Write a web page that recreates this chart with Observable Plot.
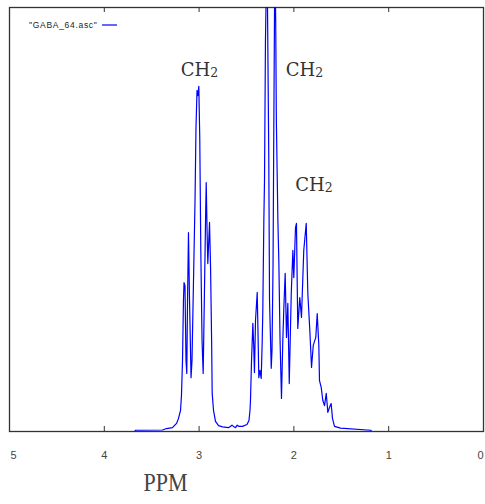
<!DOCTYPE html>
<html>
<head>
<meta charset="utf-8">
<script src="https://cdn.jsdelivr.net/npm/d3@7"></script>
<script src="https://cdn.jsdelivr.net/npm/@observablehq/plot@0.6"></script>
<style>
  html, body { margin: 0; padding: 0; background: #fff; }
  #wrap { position: relative; width: 485px; height: 504px; }
  #legend { position: absolute; left: 0; top: 0; }
</style>
</head>
<body>
<div id="wrap"></div>
<script>
// Spectrum samples (chemical shift in ppm, relative intensity)
const ppm = [5.0, 3.68, 3.67, 3.386, 3.344, 3.281, 3.238, 3.217, 3.196, 3.186,
  3.175, 3.165, 3.159, 3.149, 3.138, 3.130, 3.122, 3.112, 3.101, 3.085,
  3.075, 3.059, 3.043, 3.033, 3.022, 3.014, 3.003, 2.993, 2.982, 2.969,
  2.957, 2.945, 2.932, 2.925, 2.916, 2.908, 2.898, 2.890, 2.879, 2.868,
  2.862, 2.848, 2.827, 2.795, 2.753, 2.690, 2.653, 2.632, 2.616, 2.598,
  2.579, 2.542, 2.495, 2.474, 2.463, 2.458, 2.447, 2.433, 2.424, 2.416,
  2.405, 2.387, 2.379, 2.370, 2.358, 2.345, 2.334, 2.328, 2.317, 2.310,
  2.300, 2.284, 2.271, 2.265, 2.257, 2.239, 2.231, 2.220, 2.212, 2.201,
  2.192, 2.185, 2.169, 2.159, 2.146, 2.131, 2.117, 2.106, 2.092, 2.078,
  2.064, 2.049, 2.028, 2.011, 2.001, 1.983, 1.973, 1.959, 1.938, 1.920,
  1.896, 1.870, 1.853, 1.832, 1.814, 1.796, 1.769, 1.754, 1.737, 1.730,
  1.712, 1.695, 1.677, 1.659, 1.642, 1.624, 1.607, 1.593, 1.572, 1.508,
  1.19, 1.18, 0];
const intensity = [0, 0, 0.3, 0.35, 0.7, 0.9, 1.9, 3.1, 5.0, 8.5,
  16.7, 30.9, 35.1, 34.4, 16.7, 13.7, 30.9, 46.9, 30.9, 12.7,
  16.7, 35.6, 54.5, 71.5, 80.4, 79.2, 81.4, 69.3, 42.7, 21.5,
  13.7, 30.9, 49.8, 58.7, 47.4, 39.6, 45.0, 49.3, 38.7, 21.5,
  9.0, 5.0, 2.4, 1.4, 1.1, 0.9, 1.5, 1.1, 0.9, 1.5,
  1.2, 1.2, 1.65, 2.6, 5.0, 7.3, 16.7, 25.5, 20.3, 13.9,
  26.2, 32.8, 23.8, 12.7, 14.4, 12.5, 21.5, 28.5, 49.8, 59.2,
  92.2, 115, 80.4, 64.6, 30.9, 14.9, 19.1, 39.2, 71.0, 112,
  96.9, 73.3, 49.8, 40.3, 21.5, 7.8, 21.5, 29.2, 37.3, 22.2,
  30.2, 11.3, 32.5, 42.7, 36.3, 48.1, 49.1, 24.3, 31.6, 26.9,
  42.7, 49.1, 32.5, 23.8, 15.1, 20.3, 22.2, 27.8, 20.3, 12.0,
  10.4, 7.3, 6.1, 9.0, 4.5, 5.7, 6.6, 3.1, 1.2, 0.8,
  0.3, 0, 0];

const xTicks = [5, 4, 3, 2, 1, 0];
const innerTicks = [4, 3, 2, 1];

const peakLabelText = ["CH2", "CH2", "CH2"];
const peakLabelPpm = [2.996, 1.888, 1.788];
const peakLabelY = [85.3, 85.3, 58.0];

const axisTitle = "PPM";
const axisTitlePpm = 3.354;
const seriesName = "\"GABA_64.asc\"";

const spectrum = ppm.map((p, i) => ({ppm: p, v: intensity[i]}));
const labels = peakLabelText.map((t, i) => ({t, x: peakLabelPpm[i], y: peakLabelY[i]}));

const tickText = {fill: "#444", fontSize: 11, fontFamily: "Liberation Sans"};

const chart = Plot.plot({
  width: 485,
  height: 504,
  marginLeft: 9,
  marginRight: 2,
  marginTop: 7,
  marginBottom: 73,
  x: {domain: [5, 0], label: null},
  y: {domain: [0, 100], axis: null, label: null},
  style: {background: "#fff", fontFamily: "Liberation Sans"},
  marks: [
    Plot.ruleX(innerTicks, {stroke: "#333", strokeWidth: 1, insetTop: 419}),
    Plot.ruleX(innerTicks, {stroke: "#333", strokeWidth: 1, insetBottom: 419}),
    Plot.frame({stroke: "#333", strokeWidth: 1.3}),
    Plot.axisX(innerTicks, {tickSize: 0, tickPadding: 20, label: null, ...tickText}),
    Plot.text([xTicks[0]], {x: d => d, text: d => String(d), frameAnchor: "bottom", dy: 20, lineAnchor: "top", textAnchor: "start", dx: 1, ...tickText}),
    Plot.text([xTicks[xTicks.length - 1]], {x: d => d, text: d => String(d), frameAnchor: "bottom", dy: 20, lineAnchor: "top", textAnchor: "end", dx: 0, ...tickText}),
    Plot.text([axisTitle], {x: () => axisTitlePpm, text: d => d, frameAnchor: "bottom", dy: 59, fontSize: 26, fontFamily: "Liberation Serif", fill: "#444"}),
    Plot.text(labels, {x: "x", y: "y", text: "t", fontSize: 18, fontFamily: "DejaVu Serif", fill: "#333"}),
    Plot.line(spectrum, {x: "ppm", y: "v", stroke: "#0000ff", strokeWidth: 1.2, clip: true})
  ]
});

// subscript the "2" of CH2, and narrow the axis title like the original lettering
d3.select(chart).selectAll("text").each(function() {
  const el = d3.select(this);
  if (this.textContent === "CH2" && this.children.length === 0) {
    el.text("CH");
    el.append("tspan").attr("font-size", 12.5).attr("dy", 1).text("2");
  } else if (this.textContent === axisTitle) {
    el.attr("textLength", 44).attr("lengthAdjust", "spacingAndGlyphs");
  }
});

const wrap = document.getElementById("wrap");
wrap.appendChild(chart);

// legend (series key), top-left inside the frame
const leg = d3.select(wrap).append("svg").attr("id", "legend").attr("width", 130).attr("height", 40);
leg.append("text").attr("x", 29).attr("y", 28).attr("font-family", "Liberation Sans")
  .attr("font-size", 8.5).attr("letter-spacing", 0.7).attr("fill", "#222").text(seriesName);
leg.append("line").attr("x1", 102).attr("x2", 117).attr("y1", 25).attr("y2", 25)
  .attr("stroke", "#0000ff").attr("stroke-width", 1.2);
</script>
</body>
</html>
